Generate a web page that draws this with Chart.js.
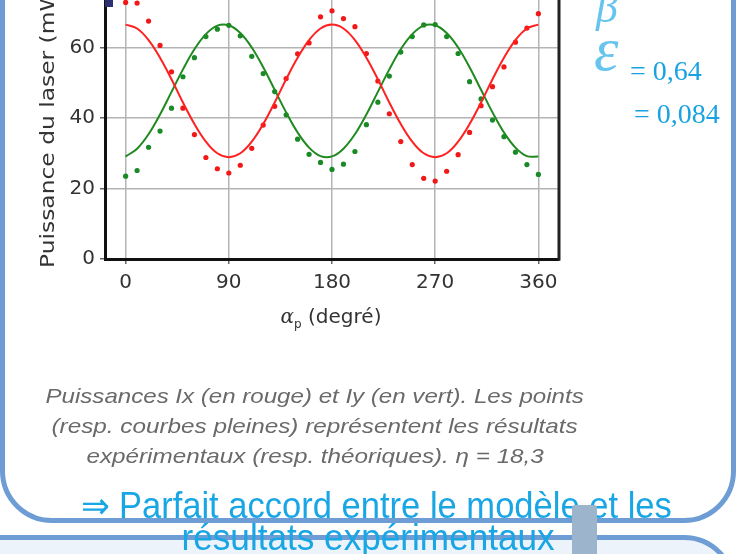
<!DOCTYPE html>
<html>
<head>
<meta charset="utf-8">
<script src="https://cdn.jsdelivr.net/npm/chart.js@4.4.1/dist/chart.umd.min.js"></script>
<style>
html, body { margin: 0; padding: 0; }
body { width: 745px; height: 554px; overflow: hidden; position: relative; background: #fff; font-family: "DejaVu Sans", sans-serif; }
.abs { position: absolute; }
#panel { left: 0; top: -100px; width: 736px; height: 623px; border: 5px solid #6d9dd4; border-radius: 52px; box-sizing: border-box; }
#panel2 { left: -60px; top: 535px; width: 796px; height: 200px; border: 5px solid #6d9dd4; border-radius: 52px; box-sizing: border-box; background: #edf3fa; }
#wrap { left: 0; top: -40px; width: 745px; height: 594px; }
#ylab { left: 38px; top: 268px; font-size: 19px; line-height: 19px; color: #333; white-space: nowrap; transform-origin: 0 0; }
#xlab { left: 231px; width: 200px; top: 304px; text-align: center; font-size: 20px; color: #333; white-space: nowrap; }
#xlab i { font-family: "DejaVu Serif", serif; }
#xlab sub { font-size: 12px; }
#corner { left: 105px; top: 0; width: 8px; height: 7px; background: #2d3070; }
.greek { color: #66c4ef; font-family: "Liberation Serif", serif; font-style: italic; }
#beta { left: 596px; top: -14px; font-size: 44px; line-height: 44px; }
#eps { left: 594px; top: 18px; font-size: 62px; line-height: 62px; }
.val { color: #1aa3e0; font-family: "Liberation Serif", serif; font-size: 28px; line-height: 28px; white-space: nowrap; }
#v1 { left: 630px; top: 57px; }
#v2 { left: 634px; top: 100px; }
.cap { left: 15px; width: 600px; text-align: center; color: #6a6a6a; font-family: "Liberation Sans Narrow", "Liberation Sans", sans-serif; font-style: italic; font-size: 21px; line-height: 30px; white-space: nowrap; }
.blue { left: 68px; width: 600px; text-align: center; color: #19a6e4; font-family: "Liberation Sans Narrow", "Liberation Sans", sans-serif; font-size: 36px; line-height: 32px; white-space: nowrap; }
.fit { display: inline-block; transform-origin: 50% 50%; }
#tab { left: 572px; top: 505px; width: 25px; height: 49px; background: #9cb4cc; border-radius: 3px 3px 0 0; }
</style>
</head>
<body>
<div id="panel" class="abs"></div>
<div id="panel2" class="abs"></div>

<div id="wrap" class="abs"><canvas id="chart" width="745" height="594"></canvas></div>

<div id="corner" class="abs"></div>
<div id="ylab" class="abs"><span id="ylabText">Puissance du laser (mW)</span></div>
<div id="xlab" class="abs"><i>α</i><sub>p</sub> (degré)</div>

<div id="beta" class="abs greek">β</div>
<div id="eps" class="abs greek">ε</div>
<div id="v1" class="abs val">= 0,64</div>
<div id="v2" class="abs val">= 0,084</div>

<div class="abs cap" style="top:381px"><span class="fit" data-w="538">Puissances Ix (en rouge) et Iy (en vert). Les points</span></div>
<div class="abs cap" style="top:411px"><span class="fit" data-w="526">(resp. courbes pleines) représentent les résultats</span></div>
<div class="abs cap" style="top:441px"><span class="fit" data-w="457">expérimentaux (resp. théoriques). η = 18,3</span></div>

<div class="abs blue" style="top:490px"><span class="fit" data-w="591">⇒ Parfait accord entre le modèle et les</span></div>
<div class="abs blue" style="top:522px"><span class="fit" data-w="373">résultats expérimentaux</span></div>
<div id="tab" class="abs"></div>

<script>
// angles (degrés) for the curves and the measured points
const angles = [0, 10, 20, 30, 40, 50, 60, 70, 80, 90, 100, 110, 120, 130, 140, 150, 160, 170, 180,
  190, 200, 210, 220, 230, 240, 250, 260, 270, 280, 290, 300, 310, 320, 330, 340, 350, 360];

// theoretical curves
const ixTheo = [66.5, 65.4, 62.1, 57.1, 51.0, 44.4, 38.3, 33.3, 30.0, 28.9, 30.0, 33.3, 38.3, 44.4, 51.0, 57.1, 62.1, 65.4, 66.5,
  65.4, 62.1, 57.1, 51.0, 44.4, 38.3, 33.3, 30.0, 28.9, 30.0, 33.3, 38.3, 44.4, 51.0, 57.1, 62.1, 65.4, 66.5];
const iyTheo = [29.1, 31.3, 35.4, 41.0, 47.4, 53.8, 59.5, 63.8, 66.2, 66.3, 64.1, 60.0, 54.4, 48.0, 41.6, 35.9, 31.6, 29.2, 29.1,
  31.3, 35.4, 41.0, 47.4, 53.8, 59.5, 63.8, 66.2, 66.3, 64.1, 60.0, 54.4, 48.0, 41.6, 35.9, 31.6, 29.2, 29.1];

// measured points
const ixMes = [72.8, 72.6, 67.5, 60.6, 53.1, 42.8, 35.3, 28.8, 25.6, 24.4, 26.6, 31.4, 38.0, 43.3, 51.2, 58.2, 61.3, 68.7, 70.4,
  68.2, 65.9, 58.3, 50.5, 41.2, 33.3, 26.8, 22.9, 22.1, 24.9, 29.6, 35.9, 43.5, 48.9, 54.5, 61.5, 65.5, 69.6];
const iyMes = [23.5, 25.1, 31.7, 36.3, 42.8, 51.7, 57.1, 63.1, 65.2, 66.3, 63.3, 57.5, 52.6, 47.5, 40.9, 34.0, 29.7, 27.4, 25.4,
  26.9, 30.5, 38.1, 44.5, 51.9, 58.7, 63.1, 66.4, 66.5, 63.1, 58.3, 50.3, 45.4, 39.4, 34.7, 30.3, 26.8, 24.0];

const xTicks = [0, 90, 180, 270, 360];
const yTicks = [0, 20, 40, 60, 80];

const pts = (ys) => angles.map((a, i) => ({ x: a, y: ys[i] }));

// right side of the frame
const frame = {
  id: "frame",
  afterDraw(chart) {
    const { ctx, chartArea: a } = chart;
    ctx.save();
    ctx.strokeStyle = "#222";
    ctx.lineWidth = 3;
    ctx.beginPath();
    ctx.moveTo(a.right, a.top);
    ctx.lineTo(a.right, a.bottom + 1.5);
    ctx.stroke();
    ctx.restore();
  }
};

const tickFont = { family: "DejaVu Sans", size: 20 };

new Chart(document.getElementById("chart").getContext("2d"), {
  type: "scatter",
  data: {
    datasets: [
      { label: "Ix théorique", data: pts(ixTheo), showLine: true, borderColor: "#ff2020", borderWidth: 2, pointRadius: 0, tension: 0.4 },
      { label: "Iy théorique", data: pts(iyTheo), showLine: true, borderColor: "#1f8a1f", borderWidth: 2, pointRadius: 0, tension: 0.4 },
      { label: "Ix", data: pts(ixMes), backgroundColor: "#f21818", borderWidth: 0, pointRadius: 2.6 },
      { label: "Iy", data: pts(iyMes), backgroundColor: "#1a8a26", borderWidth: 0, pointRadius: 2.6 }
    ]
  },
  options: {
    responsive: false,
    animation: false,
    layout: { padding: { left: 0, top: 13, right: 186, bottom: 255 } },
    plugins: { legend: { display: false }, tooltip: { enabled: false } },
    scales: {
      x: {
        type: "linear",
        min: -18,
        max: 378,
        afterBuildTicks: (s) => { s.ticks = xTicks.map((v) => ({ value: v })); },
        afterFit: (s) => { s.height = 40; },
        grid: { color: "#b4b4b4", lineWidth: 1.5, tickLength: 5, tickColor: "#666" },
        border: { color: "#111", width: 3 },
        ticks: { font: tickFont, color: "#333", padding: 7, maxRotation: 0 }
      },
      y: {
        min: 0,
        max: 80,
        afterBuildTicks: (s) => { s.ticks = yTicks.map((v) => ({ value: v })); },
        afterFit: (s) => { s.width = 105; },
        grid: { color: "#b4b4b4", lineWidth: 1.5, tickLength: 5, tickColor: "#666" },
        border: { color: "#111", width: 3 },
        ticks: { font: tickFont, color: "#333", padding: 5 }
      }
    }
  },
  plugins: [frame]
});

// stretch texts to the widths seen in the slide
function fitTexts() {
  document.querySelectorAll(".fit").forEach((el) => {
    const s = Number(el.dataset.w) / el.offsetWidth;
    el.style.transform = "scaleX(" + s + ")";
  });
  const yl = document.getElementById("ylabText");
  yl.style.display = "inline-block";
  const k = 1.23;
  document.getElementById("ylab").style.transform = "rotate(-90deg) scaleX(" + k + ")";
}
document.fonts.ready.then(fitTexts);
</script>
</body>
</html>
